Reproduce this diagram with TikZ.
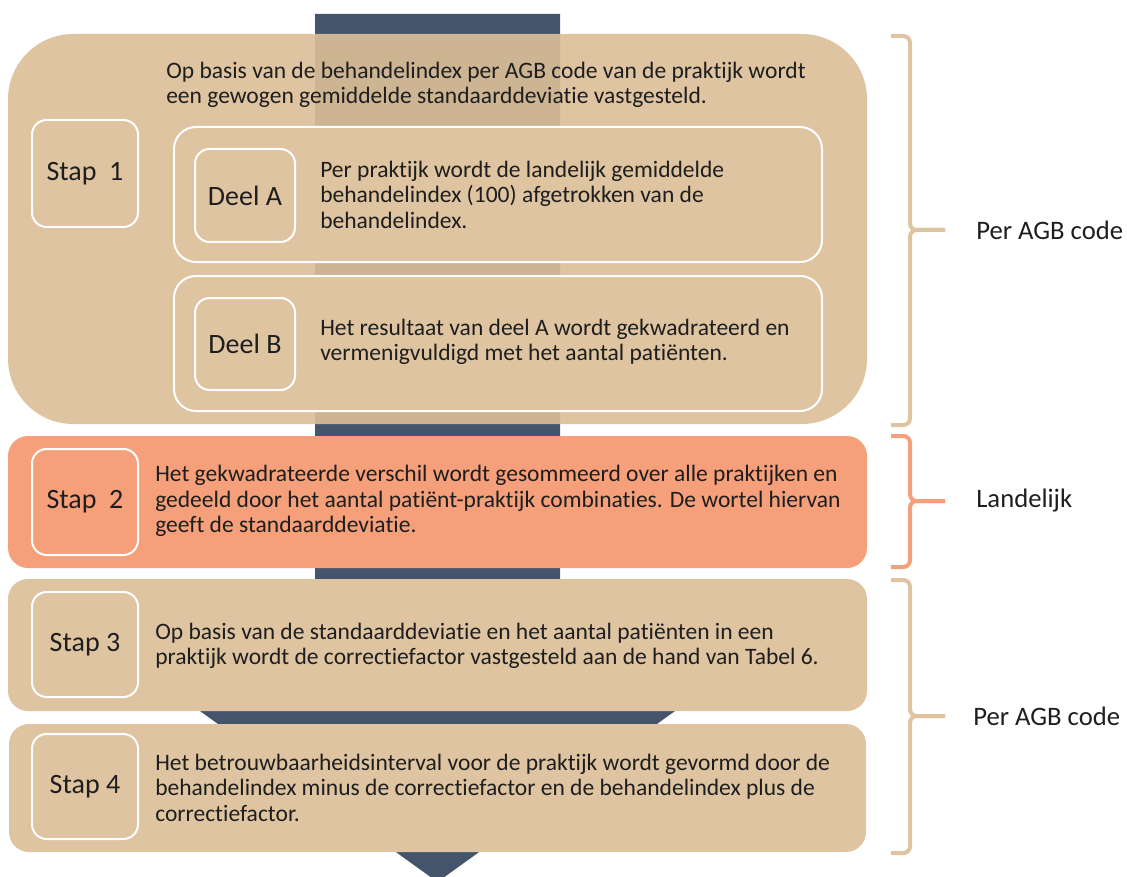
\documentclass[tikz,border=0pt]{standalone}
\usepackage{fontspec}
\setmainfont{Carlito}[Ligatures=NoCommon]
\usetikzlibrary{fit}
\definecolor{tanbase}{RGB}{219,190,151}
\definecolor{tanlight}{RGB}{222,196,160}
\definecolor{navy}{HTML}{44546A}
\definecolor{salmon}{HTML}{F5A07A}
\definecolor{ink}{HTML}{1E1E1E}
\begin{document}
\begin{tikzpicture}[x=0.75pt,y=-0.75pt,
  panel/.style={inner sep=0pt, rounded corners=15pt},
  lblbox/.style={inner sep=0pt, draw=white, line width=1.5pt, rounded corners=11pt},
  lbltxt/.style={inner sep=0pt, text=ink, font=\fontsize{21}{24}\selectfont},
  deelbox/.style={inner sep=0pt, draw=white, line width=1.5pt, rounded corners=16.5pt, fill=tanlight},
  body/.style={anchor=west, inner sep=0pt, align=left, text=ink,
    font=\fontsize{17.65}{19.1}\selectfont},
  side/.style={anchor=west, inner sep=0pt, text=ink, font=\fontsize{20}{22}\selectfont},
  brk/.style={line width=3pt, rounded corners=5pt}]
\useasboundingbox (0,0) rectangle (1127,877);
% navy arrow behind everything
\fill[navy] (315,14) -- (560,14) -- (560,700) -- (690.3,700) -- (437.5,882)
  -- (184.7,700) -- (315,700) -- cycle;
% Stap 1 group
\node[fit={(8,34)(867,424)}, inner sep=0pt, fill=tanbase, fill opacity=0.91,
  rounded corners=49pt] (g1) {};
\node[lblbox, fit={(32,120)(138,227)}] (s1) {};
\node[lbltxt] (s1t) at (s1.center) {Stap\ \ 1};
\node[body] (t1) at (166,85) {Op basis van de behandelindex per AGB code van de praktijk wordt\\een gewogen gemiddelde standaarddeviatie vastgesteld.};
\node[deelbox, fit={(174,127)(822,262)}] (da) {};
\node[lblbox, fit={(195,149)(295,242)}] (dal) {};
\node[lbltxt] (dalt) at (dal.center) {Deel A};
\node[body] (tda) at (320,194.5) {Per praktijk wordt de landelijk gemiddelde\\behandelindex (100) afgetrokken van de\\behandelindex.};
\node[deelbox, fit={(174,276)(822,411)}] (db) {};
\node[lblbox, fit={(195,298)(295,390)}] (dbl) {};
\node[lbltxt] (dblt) at (dbl.center) {Deel B};
\node[body] (tdb) at (320,342) {Het resultaat van deel A wordt gekwadrateerd en\\vermenigvuldigd met het aantal patiënten.};
% Stap 2
\node[panel, fill=salmon, fit={(8,436)(867,568)}] (g2) {};
\node[lblbox, fit={(32,449)(138,555)}] (s2) {};
\node[lbltxt] (s2t) at (s2.center) {Stap\ \ 2};
\node[body] (t2) at (155,501) {Het gekwadrateerde verschil wordt gesommeerd over alle praktijken en\\gedeeld door het aantal patiënt-praktijk combinaties. De wortel hiervan\\geeft de standaarddeviatie.};
% Stap 3
\node[panel, fill=tanlight, fit={(8,579)(867,711)}] (g3) {};
\node[lblbox, fit={(32,592)(138,697)}] (s3) {};
\node[lbltxt] (s3t) at (s3.center) {Stap 3};
\node[body] (t3) at (155,646) {Op basis van de standaarddeviatie en het aantal patiënten in een\\praktijk wordt de correctiefactor vastgesteld aan de hand van Tabel 6.};
% Stap 4
\node[panel, fill=tanlight, fit={(9,724)(866,852)}] (g4) {};
\node[lblbox, fit={(32,734)(138,839)}] (s4) {};
\node[lbltxt] (s4t) at (s4.center) {Stap 4};
\node[body] (t4) at (155,787.5) {Het betrouwbaarheidsinterval voor de praktijk wordt gevormd door de\\behandelindex minus de correctiefactor en de behandelindex plus de\\correctiefactor.};
% brackets
\draw[brk, tanlight] (891,36) -| (910,230) -- (945,230);
\draw[brk, tanlight] (891,425) -| (910,230) -- (945,230);
\draw[brk, salmon] (891,436) -| (910,501) -- (945,501);
\draw[brk, salmon] (891,567) -| (910,501) -- (945,501);
\draw[brk, tanlight] (891,580) -| (910,716) -- (945,716);
\draw[brk, tanlight] (891,853) -| (910,716) -- (945,716);
\node[side] (r1) at (976,230) {Per AGB code};
\node[side] (r2) at (976,501) {Landelijk};
\node[side] (r3) at (973,716) {Per AGB code};
\end{tikzpicture}
\end{document}
